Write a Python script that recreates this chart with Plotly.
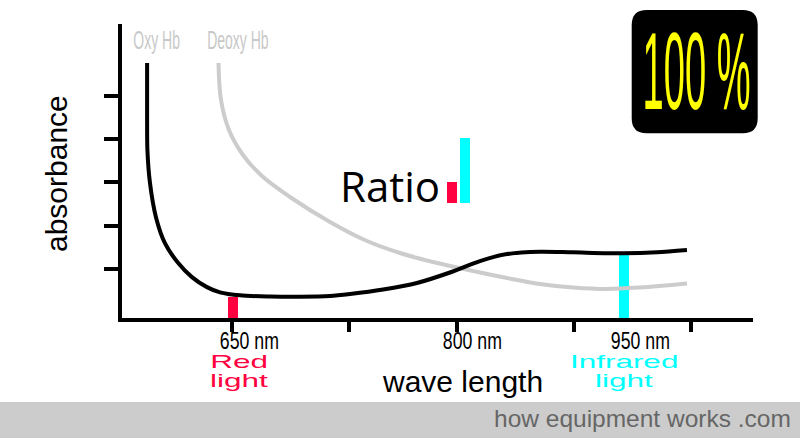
import json
import plotly.graph_objects as go

# ---------------- data ----------------
oxy_wl = [593.4, 593.4, 593.6, 595.3, 599.3, 605.3, 614.0, 623.3, 633.3, 642.0, 655.3,
          675.3, 695.3, 715.3, 728.7, 750.7, 773.3, 795.3, 815.3, 833.3, 855.3, 877.3,
          910.7, 933.3, 953.3]
oxy_abs = [5.75, 4.50, 3.75, 2.99, 2.20, 1.60, 1.15, 0.82, 0.59, 0.47, 0.40,
           0.374, 0.369, 0.385, 0.432, 0.535, 0.685, 0.926, 1.19, 1.35, 1.405, 1.39,
           1.368, 1.39, 1.444]

deoxy_wl = [641.0, 642.67, 648.0, 657.33, 670.0, 688.67, 715.33, 740.0, 762.0, 784.0,
            810.67, 833.33, 855.33, 877.33, 900.0, 922.0, 953.33]
deoxy_abs = [5.748, 4.896, 4.206, 3.631, 3.147, 2.664, 2.089, 1.651, 1.375, 1.168,
             0.961, 0.800, 0.662, 0.581, 0.547, 0.581, 0.673]

tick_wl = [650, 728, 800, 878, 956]
tick_abs = [1, 2, 3, 4, 5]

light_wl = [650.7, 911.5]          # red light, infrared light
light_abs = [0.37, 1.375]          # absorbance where the bars meet the Oxy Hb curve
axis_floor = -0.121

ratio_wl = [796.9, 805.3]
ratio_base = 2.519

wl_labels = ["650 nm", "800 nm", "950 nm"]
light_names = [["Red", "light"], ["Infrared", "light"]]

RED = "#ff0040"
CYAN = "#00ffff"
GRAY = "#cccccc"

# ---------------- geometry helpers (pixel -> paper) ----------------
W, H = 800, 438
L, R, T, B = 122, 753, 24, 318


def xp(px):
    return (px - L) / (R - L)


def yp(py):
    return (B - py) / (B - T)


fig = go.Figure()

heights = [a - axis_floor for a in light_abs]
light_cols = [RED, CYAN]

for wl, h, c in zip(light_wl, heights, light_cols):
    fig.add_trace(go.Bar(x=[wl], y=[h], base=[axis_floor], width=6.7,
                         marker=dict(color=c, line=dict(width=0)), showlegend=False,
                         hoverinfo="skip"))
for wl, h, c in zip(ratio_wl, heights, light_cols):
    fig.add_trace(go.Bar(x=[wl], y=[h], base=[ratio_base], width=6.7,
                         marker=dict(color=c, line=dict(width=0)), showlegend=False,
                         hoverinfo="skip"))

fig.add_trace(go.Scatter(x=deoxy_wl, y=deoxy_abs, mode="lines", name="Deoxy Hb",
                         line=dict(color=GRAY, width=4, shape="spline", smoothing=1.0),
                         showlegend=False))
fig.add_trace(go.Scatter(x=oxy_wl, y=oxy_abs, mode="lines", name="Oxy Hb",
                         line=dict(color="black", width=4, shape="spline", smoothing=0.8),
                         showlegend=False))

x_lo = 650 - (232 - L) / 1.5
x_hi = 650 + (R - 232) / 1.5
y_hi = 1 + (269.3 - T) / 43.45

fig.update_layout(
    width=W, height=H,
    margin=dict(l=L, r=W - R, t=T, b=H - B, pad=0),
    paper_bgcolor="white", plot_bgcolor="white",
    barmode="overlay", bargap=0,
    xaxis=dict(range=[x_lo, x_hi], showgrid=False, zeroline=False,
               showline=True, linecolor="black", linewidth=3.5,
               ticks="outside", ticklen=10, tickwidth=3.5, tickcolor="black",
               tickvals=tick_wl, showticklabels=False, fixedrange=True),
    yaxis=dict(range=[axis_floor, y_hi], showgrid=False, zeroline=False,
               showline=True, linecolor="black", linewidth=3.5,
               ticks="outside", ticklen=14, tickwidth=3.5, tickcolor="black",
               tickvals=tick_abs, showticklabels=False, fixedrange=True),
    font=dict(family="Liberation Sans, Arial, sans-serif"),
)

SANS = "Liberation Sans, Arial, sans-serif"

ann = []
# curve labels (condensed)
ann.append(dict(text="Oxy Hb", x=xp(156), y=yp(39.5), sx=0.56,
                font=dict(family=SANS, size=25, color="#c8c8c8")))
ann.append(dict(text="Deoxy Hb", x=xp(238.3), y=yp(39.5), sx=0.56,
                font=dict(family=SANS, size=25, color="#c8c8c8")))
# wavelength labels (condensed)
for t, px in zip(wl_labels, [249, 472, 640]):
    ann.append(dict(text=t, x=xp(px), y=yp(340.5), sx=0.77,
                    font=dict(family=SANS, size=23, color="black")))
# light names (expanded)
for (l1, l2), px, c in zip(light_names, [238.5, 624.2], light_cols):
    ann.append(dict(text=l1, x=xp(px), y=yp(362.2), sx=1.8,
                    font=dict(family=SANS, size=17.5, color=c)))
    ann.append(dict(text=l2, x=xp(px), y=yp(380.8), sx=1.8,
                    font=dict(family=SANS, size=17.5, color=c)))
# axis titles
ann.append(dict(text="wave length", x=xp(462), y=yp(381), font=dict(size=30, color="black")))
ann.append(dict(text="absorbance", x=xp(56), y=yp(174), textangle=-90,
                font=dict(size=30, color="black")))
# Ratio
ann.append(dict(text="Ratio", x=xp(442), y=yp(186), xanchor="right",
                font=dict(family="Open Sans, sans-serif", size=42, color="black")))
# 100 %
ann.append(dict(text="100 %", x=xp(696), y=yp(70.8), sx=0.35,
                font=dict(family=SANS, size=109, color="#ffff00")))
# footer
ann.append(dict(text="how equipment works .com", x=xp(793), y=yp(418), xanchor="right",
                font=dict(size=24.5, color="#666666")))

scales = {}
for i, a in enumerate(ann):
    s = a.pop("sx", None)
    if s is not None:
        scales[str(i)] = s
    a.setdefault("xanchor", "center")
    a.setdefault("yanchor", "middle")
    a.update(xref="paper", yref="paper", showarrow=False)
fig.update_layout(annotations=ann)

# rounded black box behind "100 %"
bx0, bx1, by0, by1, r = 631.7, 757.7, 10, 133.3, 15
path = (f"M {xp(bx0 + r)},{yp(by0)} L {xp(bx1 - r)},{yp(by0)} "
        f"Q {xp(bx1)},{yp(by0)} {xp(bx1)},{yp(by0 + r)} "
        f"L {xp(bx1)},{yp(by1 - r)} Q {xp(bx1)},{yp(by1)} {xp(bx1 - r)},{yp(by1)} "
        f"L {xp(bx0 + r)},{yp(by1)} Q {xp(bx0)},{yp(by1)} {xp(bx0)},{yp(by1 - r)} "
        f"L {xp(bx0)},{yp(by0 + r)} Q {xp(bx0)},{yp(by0)} {xp(bx0 + r)},{yp(by0)} Z")
fig.add_shape(type="path", path=path, xref="paper", yref="paper",
              fillcolor="black", line=dict(width=0), layer="above")
# footer band
fig.add_shape(type="rect", xref="paper", yref="paper", x0=xp(0), x1=xp(W), y0=yp(402), y1=yp(H),
              fillcolor="#cccccc", line=dict(width=0), layer="below")

post = """
document.body.style.margin = '0';
document.body.style.overflow = 'hidden';
var S = %s;
document.querySelectorAll('g.annotation').forEach(function (g) {
  var i = g.getAttribute('data-index');
  if (!(i in S)) return;
  var t = g.querySelector('text.annotation-text');
  if (!t) return;
  var bb = t.getBBox();
  var cx = bb.x + bb.width / 2;
  var old = t.getAttribute('transform') || '';
  t.setAttribute('transform', old + ' translate(' + cx + ',0) scale(' + S[i] + ',1) translate(' + (-cx) + ',0)');
});
""" % json.dumps(scales)

fig.write_html("out.html", post_script=post, config={"displayModeBar": False})
